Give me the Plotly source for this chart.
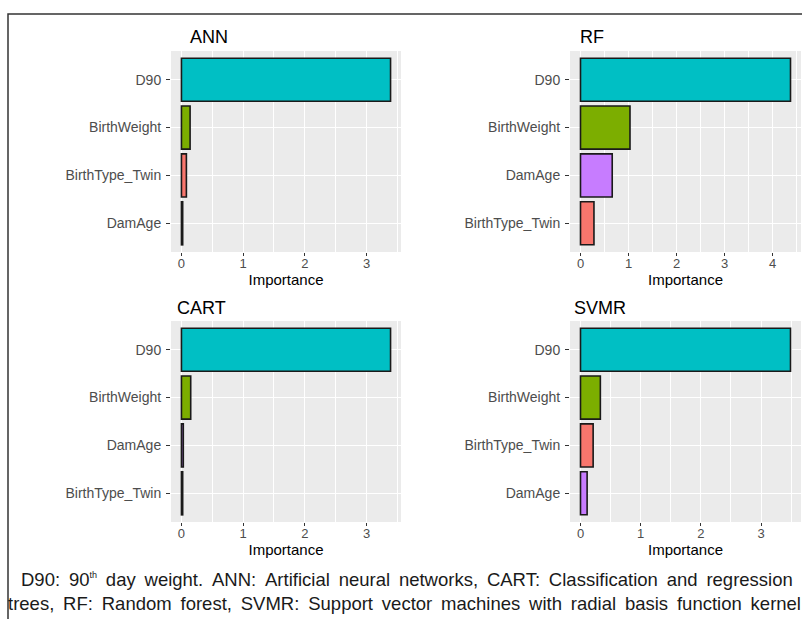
import plotly.graph_objects as go

# ---------------- data ----------------
colors_by_var = {
    "BirthType_Twin": "#F8766D",
    "BirthWeight": "#7CAE00",
    "D90": "#00BFC4",
    "DamAge": "#C77CFF",
}

ann_vars = ["D90", "BirthWeight", "BirthType_Twin", "DamAge"]
ann_vals = [3.39, 0.14, 0.08, 0.02]

rf_vars = ["D90", "BirthWeight", "DamAge", "BirthType_Twin"]
rf_vals = [4.37, 1.03, 0.66, 0.28]

cart_vars = ["D90", "BirthWeight", "DamAge", "BirthType_Twin"]
cart_vals = [3.39, 0.15, 0.03, 0.02]

svmr_vars = ["D90", "BirthWeight", "BirthType_Twin", "DamAge"]
svmr_vals = [3.49, 0.33, 0.21, 0.11]

panel_titles = ["ANN", "RF", "CART", "SVMR"]
x_label = "Importance"

caption_line1 = ("D90: 90<sup><span style='font-size:9px'>th</span></sup> day weight. "
                 "ANN: Artificial neural networks, CART: Classification and regression")
caption_line2 = "trees, RF: Random forest, SVMR: Support vector machines with radial basis function kernel"

# ---------------- layout helpers ----------------
W, H = 802, 619


def px_x(p):
    return p / W


def px_y(p):
    return 1 - p / H


FONT = "Arial, Liberation Sans, sans-serif"

panels = [
    # vars, vals, x-domain px, y-domain px (top,bottom), title pos
    (ann_vars, ann_vals, (171, 401), (51, 252), (188, 37)),
    (rf_vars, rf_vals, (570, 801), (51, 252), (578, 37)),
    (cart_vars, cart_vals, (171, 401), (321, 522), (175, 308)),
    (svmr_vars, svmr_vals, (570, 801), (321, 522), (572, 308)),
]

fig = go.Figure()
layout = dict(
    width=W,
    height=H,
    margin=dict(l=0, r=0, t=0, b=0),
    paper_bgcolor="white",
    plot_bgcolor="#EBEBEB",
    showlegend=False,
    font=dict(family=FONT),
    bargap=0.1,
)
annotations = []

for i, (vars_, vals, xd, yd, tpos) in enumerate(panels):
    n = i + 1
    xa = "x" if n == 1 else f"x{n}"
    ya = "y" if n == 1 else f"y{n}"
    fig.add_trace(
        go.Bar(
            x=vals,
            y=vars_,
            orientation="h",
            width=0.9,
            marker=dict(
                color=[colors_by_var[v] for v in vars_],
                line=dict(color="#1a1a1a", width=1.6),
            ),
            xaxis=xa,
            yaxis=ya,
            hoverinfo="x+y",
        )
    )
    mx = max(vals)
    layout["xaxis" if n == 1 else f"xaxis{n}"] = dict(
        domain=[px_x(xd[0]), px_x(xd[1])],
        anchor=ya,
        range=[-0.05 * mx, 1.05 * mx],
        dtick=1,
        tick0=0,
        showgrid=True,
        gridcolor="white",
        gridwidth=1.4,
        minor=dict(showgrid=True, gridcolor="white", gridwidth=0.7, dtick=0.5),
        zeroline=False,
        showline=False,
        ticks="outside",
        ticklen=3,
        tickwidth=1,
        tickcolor="#333333",
        ticklabelstandoff=-4,
        tickfont=dict(size=13, color="#4D4D4D", family=FONT),
        title=dict(text=x_label, font=dict(size=15, color="black", family=FONT), standoff=0),
    )
    layout["yaxis" if n == 1 else f"yaxis{n}"] = dict(
        domain=[px_y(yd[1]), px_y(yd[0])],
        anchor=xa,
        type="category",
        categoryorder="array",
        categoryarray=list(reversed(vars_)),
        range=[-0.6, len(vars_) - 0.4],
        showgrid=True,
        gridcolor="white",
        gridwidth=1.4,
        zeroline=False,
        showline=False,
        ticks="outside",
        ticklen=4,
        tickwidth=1,
        tickcolor="#333333",
        ticklabelstandoff=2,
        tickfont=dict(size=14, color="#4D4D4D", family=FONT),
    )
    annotations.append(
        dict(
            text=panel_titles[i],
            x=px_x(tpos[0]),
            y=px_y(tpos[1]),
            xref="paper",
            yref="paper",
            xanchor="left",
            yanchor="middle",
            showarrow=False,
            font=dict(size=18, color="black", family=FONT),
        )
    )

thin = "\u2009"
for txt, cx, cy in [
    (caption_line1, 407, 579),
    (caption_line2, 404, 603),
]:
    annotations.append(
        dict(
            text=txt.replace(" day", " " + thin + "day").replace(", ", ", " + thin)
            .replace(": ", ": " + thin).replace(". ", ". " + thin)
            .replace(" and ", " " + thin + "and " + thin)
            .replace(" forest", " " + thin + "forest")
            .replace(" vector", " " + thin + "vector")
            .replace(" machines", " " + thin + "machines")
            .replace(" with", " " + thin + "with")
            .replace(" radial", " " + thin + "radial")
            .replace(" basis", " " + thin + "basis")
            .replace(" function", " " + thin + "function")
            .replace(" kernel", " " + thin + "kernel")
            .replace(" neural", " " + thin + "neural")
            .replace(" networks", " " + thin + "networks")
            .replace(" weight", " " + thin + "weight"),
            x=px_x(cx),
            y=px_y(cy),
            xref="paper",
            yref="paper",
            xanchor="center",
            yanchor="middle",
            showarrow=False,
            font=dict(size=18.5, color="#1a1a1a", family=FONT),
        )
    )

layout["annotations"] = annotations
layout["shapes"] = [
    dict(
        type="rect",
        xref="paper",
        yref="paper",
        x0=px_x(8),
        x1=1.02,
        y0=-0.02,
        y1=px_y(14),
        line=dict(color="#333333", width=1.5),
        fillcolor="rgba(0,0,0,0)",
        layer="above",
    )
]

fig.update_layout(**layout)
fig.write_html(
    "out.html",
    config={"displayModeBar": False},
    post_script="document.body.style.margin='0';document.body.style.overflow='hidden';",
)
